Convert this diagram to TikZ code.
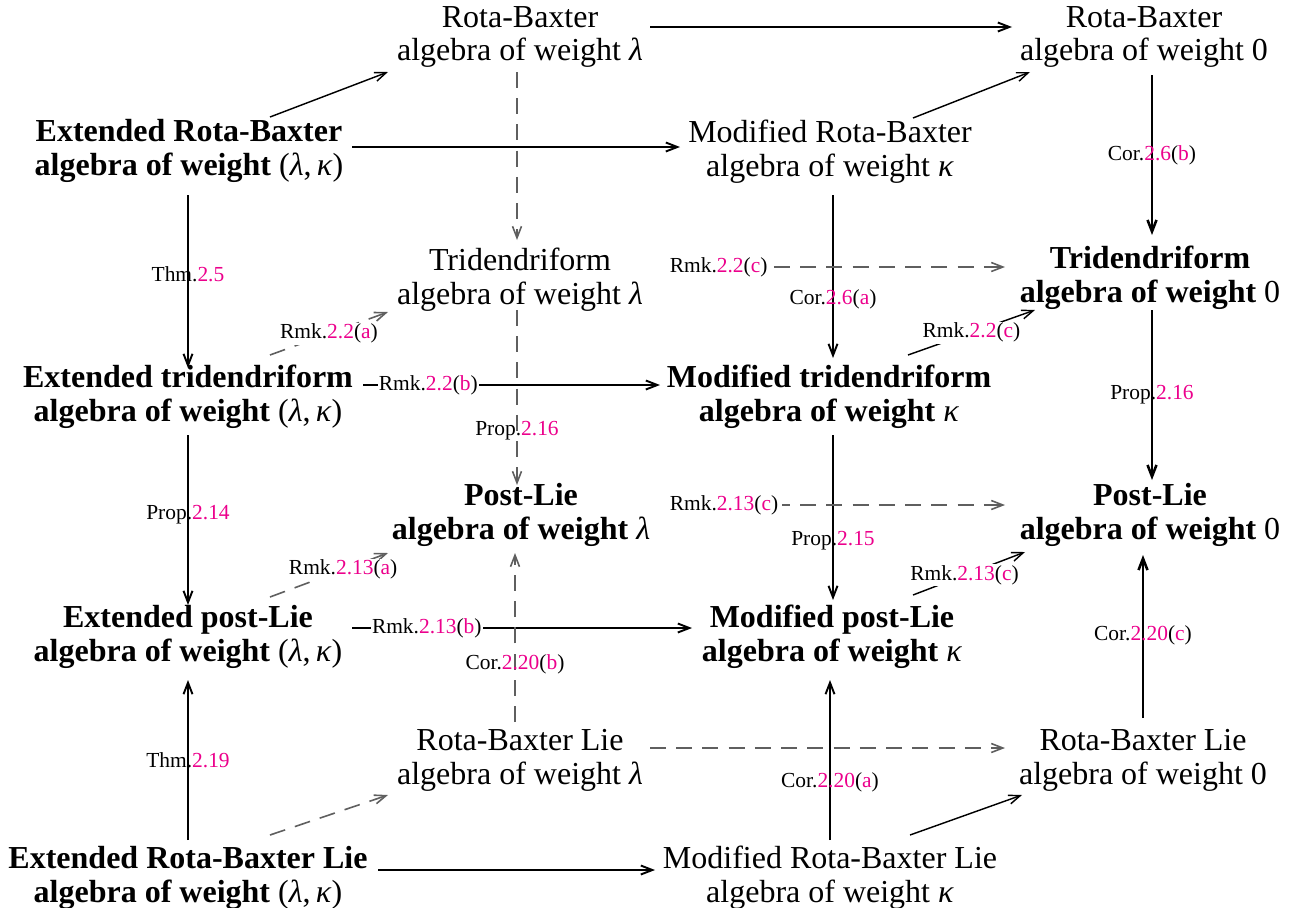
\documentclass[tikz,border=0pt]{standalone}
\usepackage{fontspec}
\setmainfont{Liberation Serif}
\usetikzlibrary{arrows.meta,calc}
\definecolor{lk}{RGB}{236,0,140}
\definecolor{dg}{RGB}{95,95,95}
\newcommand{\lam}{\textit{λ}}
\newcommand{\kap}{\textit{κ}}
\newcommand{\lamn}{{\normalfont\textit{λ}}}
\newcommand{\kapn}{{\normalfont\textit{κ}}}
\newcommand{\lk}[1]{\textcolor{lk}{#1}}
\newcommand{\wts}{{\normalfont(\textit{λ},\,\textit{κ})}}
\begin{document}
\begin{tikzpicture}[x=0.3125pt,y=-0.3125pt,
  obj/.style={font=\fontsize{10pt}{10.6pt}\selectfont, align=center, inner sep=0pt},
  bobj/.style={obj, font=\fontsize{10pt}{10.6pt}\selectfont\bfseries},
  lab/.style={font=\fontsize{6.7pt}{7pt}\selectfont, inner sep=0.4pt},
  hlab/.style={lab, fill=white},
  slab/.style={hlab, pos=0, anchor=west, inner xsep=1.2pt, xshift=-1.2pt},
  tip/.style={-{Straight Barb[length=3.6pt,width=2.8pt]}},
  sol/.style={tip, line width=0.6pt},
  vsol/.style={tip, line width=0.8pt},
  dia/.style={tip, line width=0.45pt},
  das/.style={tip, line width=0.5pt, draw=dg, dash pattern=on 5pt off 3.2pt},
]
\useasboundingbox (0,0) rectangle (1291,907);

\node[obj] (rbl) at (520,37) {Rota-Baxter\\algebra of weight \lam};
\node[obj] (rb0) at (1144,37) {Rota-Baxter\\algebra of weight 0};
\node[bobj] (extrb) at (189,151) {Extended Rota-Baxter\\algebra of weight \wts};
\node[obj] (modrb) at (830,152) {Modified Rota-Baxter\\algebra of weight \kap};
\node[obj] (tridl) at (520,280) {Tridendriform\\algebra of weight \lam};
\node[bobj] (trid0) at (1150,278) {Tridendriform\\algebra of weight {\normalfont 0}};
\node[bobj] (exttrid) at (188,397) {Extended tridendriform\\algebra of weight \wts};
\node[bobj] (modtrid) at (829,397) {Modified tridendriform\\algebra of weight \kapn};
\node[bobj] (pll) at (521,515) {Post-Lie\\algebra of weight \lamn};
\node[bobj] (pl0) at (1150,515) {Post-Lie\\algebra of weight {\normalfont 0}};
\node[bobj] (extpl) at (188,637) {Extended post-Lie\\algebra of weight \wts};
\node[bobj] (modpl) at (832,637) {Modified post-Lie\\algebra of weight \kapn};
\node[obj] (rbliel) at (520,760) {Rota-Baxter Lie\\algebra of weight \lam};
\node[obj] (rblie0) at (1143,760) {Rota-Baxter Lie\\algebra of weight 0};
\node[bobj] (extrblie) at (188,878) {Extended Rota-Baxter Lie\\algebra of weight \wts};
\node[obj] (modrblie) at (830,878) {Modified Rota-Baxter Lie\\algebra of weight \kap};

% top layer
\draw[sol] ($(rbl)+(130,-10)$) -- ($(rb0)+(-132,-10)$);
\draw[dia] ($(extrb)+(81,-34)$) -- ($(rbl)+(-132,35)$);
\draw[sol] ($(extrb)+(163,-4)$) -- ($(modrb)+(-150,-5)$);
\draw[dia] ($(modrb)+(83,-34)$) -- ($(rb0)+(-114,35)$);

% top to tridendriform
\draw[das] ($(rbl)+(-3,35)$) -- ($(tridl)+(-3,-40)$);
\draw[vsol] ($(rb0)+(8,38)$) -- ($(trid0)+(2,-43)$) node[lab,pos=0.5] {Cor.\lk{2.6}(\lk{b})};
\draw[sol] ($(extrb)+(-1,44)$) -- ($(exttrid)+(0,-29)$) node[lab,pos=0.46] {Thm.\lk{2.5}};
\draw[sol] ($(modrb)+(3,43)$) -- ($(modtrid)+(4,-39)$) node[lab,pos=0.64] {Cor.\lk{2.6}(\lk{a})};

% tridendriform layer
\draw[das] ($(exttrid)+(82,-42)$) -- ($(tridl)+(-132,32)$) node[hlab,pos=0.5] {Rmk.\lk{2.2}(\lk{a})};
\draw[sol] ($(exttrid)+(175,-12)$) -- ($(modtrid)+(-169,-12)$) node[hlab,pos=0.22] {Rmk.\lk{2.2}(\lk{b})};
\draw[das] ($(tridl)+(149,-13)$) -- ($(trid0)+(-145,-11)$) node[slab] {Rmk.\lk{2.2}(\lk{c})};
\draw[dia] ($(modtrid)+(79,-42)$) -- ($(trid0)+(-115,32)$) node[hlab,pos=0.5] {Rmk.\lk{2.2}(\lk{c})};

% tridendriform to post-Lie
\draw[das] ($(tridl)+(-3,30)$) -- ($(pll)+(-4,-30)$) node[lab,pos=0.69] {Prop.\lk{2.16}};
\draw[vsol] ($(trid0)+(2,32)$) -- ($(pl0)+(2,-35)$) node[lab,pos=0.5] {Prop.\lk{2.16}};
\draw[sol] ($(exttrid)+(0,38)$) -- ($(extpl)+(0,-32)$) node[lab,pos=0.47] {Prop.\lk{2.14}};
\draw[sol] ($(modtrid)+(4,38)$) -- ($(modpl)+(1,-37)$) node[lab,pos=0.64] {Prop.\lk{2.15}};

% post-Lie layer
\draw[das] ($(pll)+(148,-10)$) -- ($(pl0)+(-145,-10)$) node[slab] {Rmk.\lk{2.13}(\lk{c})};
\draw[das] ($(extpl)+(82,-40)$) -- ($(pll)+(-133,38)$) node[hlab,pos=0.62] {Rmk.\lk{2.13}(\lk{a})};
\draw[dia] ($(modpl)+(81,-42)$) -- ($(pl0)+(-125,37)$) node[hlab,pos=0.46] {Rmk.\lk{2.13}(\lk{c})};
\draw[sol] ($(extpl)+(164,-9)$) -- ($(modpl)+(-140,-9)$) node[hlab,pos=0.22] {Rmk.\lk{2.13}(\lk{b})};

% Rota-Baxter Lie to post-Lie
\draw[das] ($(rbliel)+(-5,-38)$) -- ($(pll)+(-6,38)$) node[lab,pos=0.34] {Cor.\lk{2.20}(\lk{b})};
\draw[das] ($(rbliel)+(130,-12)$) -- ($(rblie0)+(-138,-12)$);
\draw[vsol] ($(rblie0)+(0,-42)$) -- ($(pl0)+(-7,40)$) node[lab,pos=0.51] {Cor.\lk{2.20}(\lk{c})};
\draw[sol] ($(modrblie)+(0,-38)$) -- ($(modpl)+(-2,43)$) node[lab,pos=0.36] {Cor.\lk{2.20}(\lk{a})};
\draw[sol] ($(extrblie)+(0,-38)$) -- ($(extpl)+(0,43)$) node[lab,pos=0.5] {Thm.\lk{2.19}};

% bottom layer
\draw[das] ($(extrblie)+(82,-43)$) -- ($(rbliel)+(-132,35)$);
\draw[sol] ($(extrblie)+(190,-8)$) -- ($(modrblie)+(-175,-8)$);
\draw[dia] ($(modrblie)+(80,-43)$) -- ($(rblie0)+(-121,35)$);
\end{tikzpicture}
\end{document}
